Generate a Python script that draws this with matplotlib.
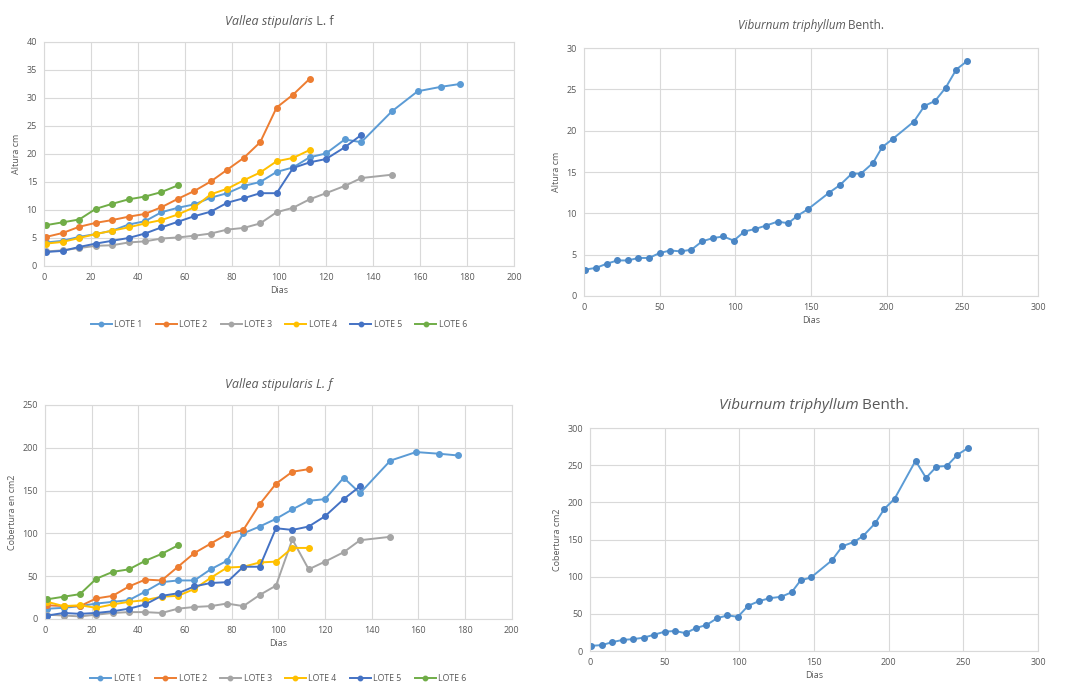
import matplotlib
matplotlib.use("Agg")
import matplotlib.pyplot as plt

# ---------------- data ----------------
dias_v = [1, 8, 15, 22, 29, 36, 43, 50, 57, 64, 71, 78, 85, 92, 99, 106, 113,
          120, 128, 135, 148, 159, 169, 177]

alt_lote1 = [4.2, 4.5, 5.2, 5.7, 6.3, 7.4, 8.0, 9.6, 10.4, 11.0, 12.2, 13.0, 14.3,
             15.0, 16.8, 17.6, 19.4, 20.1, 22.6, 22.1, 27.6, 31.2, 32.0, 32.5]
alt_lote2 = [5.2, 5.9, 7.0, 7.7, 8.2, 8.8, 9.3, 10.5, 12.0, 13.4, 15.1, 17.2, 19.3,
             22.1, 28.3, 30.6, 33.4]
alt_lote3 = [2.6, 2.8, 3.2, 3.6, 3.7, 4.2, 4.4, 4.9, 5.1, 5.4, 5.8, 6.5, 6.8, 7.6,
             9.6, 10.4, 11.9, 13.0, 14.3, 15.7, 16.3]
alt_lote4 = [4.0, 4.3, 5.0, 5.7, 6.3, 6.9, 7.6, 8.2, 9.2, 10.5, 12.8, 13.8, 15.3,
             16.7, 18.7, 19.3, 20.7]
alt_lote5 = [2.5, 2.7, 3.4, 4.0, 4.5, 5.0, 5.8, 6.9, 7.9, 8.9, 9.7, 11.3, 12.1,
             13.0, 13.0, 17.5, 18.5, 19.1, 21.2, 23.4]
alt_lote6 = [7.3, 7.8, 8.3, 10.2, 11.1, 11.9, 12.4, 13.2, 14.4]

cob_lote1 = [12, 13, 15, 18, 20, 22, 32, 43, 45, 45, 58, 68, 100, 108, 117, 128,
             138, 140, 165, 147, 185, 195, 193, 191]
cob_lote2 = [16, 15, 15, 24, 27, 38, 46, 45, 61, 77, 88, 99, 104, 134, 158, 172, 175]
cob_lote3 = [5, 4, 3, 5, 7, 8, 8, 7, 12, 14, 15, 18, 15, 28, 39, 93, 58, 67, 78,
             92, 96]
cob_lote4 = [20, 15, 16, 13, 17, 20, 22, 26, 27, 35, 48, 60, 61, 66, 67, 83, 83]
cob_lote5 = [4, 7, 6, 7, 9, 12, 17, 27, 30, 38, 42, 43, 61, 61, 106, 104, 108,
             120, 140, 155]
cob_lote6 = [23, 26, 29, 47, 55, 58, 68, 76, 86]

lotes = ["LOTE 1", "LOTE 2", "LOTE 3", "LOTE 4", "LOTE 5", "LOTE 6"]
alt_series = [alt_lote1, alt_lote2, alt_lote3, alt_lote4, alt_lote5, alt_lote6]
cob_series = [cob_lote1, cob_lote2, cob_lote3, cob_lote4, cob_lote5, cob_lote6]

dias_b = [1, 8, 15, 22, 29, 36, 43, 50, 57, 64, 71, 78, 85, 92, 99, 106, 113, 120,
          128, 135, 141, 148, 162, 169, 177, 183, 191, 197, 204, 218, 225, 232,
          239, 246, 253]
alt_vib = [3.2, 3.4, 3.9, 4.3, 4.3, 4.6, 4.6, 5.2, 5.5, 5.4, 5.6, 6.6, 7.0, 7.2,
           6.7, 7.8, 8.1, 8.5, 9.0, 8.8, 9.7, 10.5, 12.5, 13.4, 14.8, 14.8, 16.1,
           18.0, 19.0, 21.1, 23.0, 23.6, 25.2, 27.4, 28.4]
cob_vib = [7, 8, 12, 15, 16, 18, 22, 26, 27, 24, 31, 35, 44, 48, 46, 61, 67, 71,
           73, 79, 95, 99, 122, 141, 147, 155, 172, 191, 205, 256, 233, 248, 249,
           264, 273]

colors = ["#5B9BD5", "#ED7D31", "#A5A5A5", "#FFC000", "#4472C4", "#70AD47"]
TXT = "#595959"
GRID = "#D9D9D9"

plt.rcParams['font.family'] = ['Open Sans', 'DejaVu Sans']

fig = plt.figure(figsize=(10.78, 6.85), dpi=100)


def style(ax, xlim, xticks, ylim, yticks, ylabel):
    ax.set_xlim(*xlim)
    ax.set_ylim(*ylim)
    ax.set_xticks(xticks)
    ax.set_yticks(yticks)
    ax.grid(True, color=GRID, linewidth=0.8)
    ax.set_axisbelow(True)
    for s in ax.spines.values():
        s.set_color(GRID)
        s.set_linewidth(0.8)
    ax.tick_params(length=0, labelsize=6.5, colors=TXT, pad=5)
    ax.set_xlabel("Dias", fontsize=6.5, color=TXT, labelpad=3)
    ax.set_ylabel(ylabel, fontsize=6.5, color=TXT, labelpad=4)


def title(ax, parts, y, size):
    texts = []
    for txt, st in parts:
        t = ax.text(0.5, y, txt, transform=ax.transAxes, fontsize=size,
                    style=st, color=TXT, ha='left', va='baseline')
        texts.append(t)
    fig.canvas.draw()
    r = fig.canvas.get_renderer()
    widths = [t.get_window_extent(r).width for t in texts]
    total = sum(widths)
    axw = ax.get_window_extent(r).width
    cur = 0.5 - total / 2 / axw
    for t, w in zip(texts, widths):
        t.set_x(cur)
        cur += w / axw


leg_kw = dict(loc='upper center', bbox_to_anchor=(0.5, -0.205), ncol=6,
              frameon=False, fontsize=6.3, labelcolor=TXT, handlelength=2.4,
              columnspacing=1.5, handletextpad=0.3, markerscale=0.8)

# Top-left
ax1 = fig.add_axes([0.0408, 0.6117, 0.436, 0.327])
for name, ys, c in zip(lotes, alt_series, colors):
    ax1.plot(dias_v[:len(ys)], ys, color=c, marker='o', markersize=4,
             linewidth=1.4, label=name)
style(ax1, (0, 200), range(0, 201, 20), (0, 40), range(0, 41, 5), "Altura cm")
ax1.legend(**leg_kw)

# Bottom-left
ax2 = fig.add_axes([0.0417, 0.0964, 0.433, 0.3124])
for name, ys, c in zip(lotes, cob_series, colors):
    ax2.plot(dias_v[:len(ys)], ys, color=c, marker='o', markersize=4,
             linewidth=1.4, label=name)
style(ax2, (0, 200), range(0, 201, 20), (0, 250), range(0, 251, 50),
      "Cobertura en cm2")
leg_kw2 = dict(leg_kw)
leg_kw2['bbox_to_anchor'] = (0.5, -0.22)
ax2.legend(**leg_kw2)

# Top-right
ax3 = fig.add_axes([0.5417, 0.5679, 0.4212, 0.362])
ax3.plot(dias_b, alt_vib, color="#5B9BD5", marker='o', markersize=4,
         markerfacecolor="#4A86C5", markeredgecolor="#4A86C5", linewidth=1.4)
style(ax3, (0, 300), range(0, 301, 50), (0, 30), range(0, 31, 5), "Altura cm")

# Bottom-right
ax4 = fig.add_axes([0.5473, 0.0496, 0.4156, 0.3255])
ax4.plot(dias_b, cob_vib, color="#5B9BD5", marker='o', markersize=4,
         markerfacecolor="#4A86C5", markeredgecolor="#4A86C5", linewidth=1.4)
style(ax4, (0, 300), range(0, 301, 50), (0, 300), range(0, 301, 50),
      "Cobertura cm2")

title(ax1, [("Vallea stipularis", 'italic'), (" L. f", 'normal')], 1.075, 9)
title(ax2, [("Vallea stipularis L. f", 'italic')], 1.08, 9)
title(ax3, [("Viburnum triphyllum", 'italic'), (" Benth.", 'normal')], 1.075, 8.5)
title(ax4, [("Viburnum triphyllum", 'italic'), (" Benth.", 'normal')], 1.085, 11)

fig.savefig("out.png", dpi=100, facecolor='white')
